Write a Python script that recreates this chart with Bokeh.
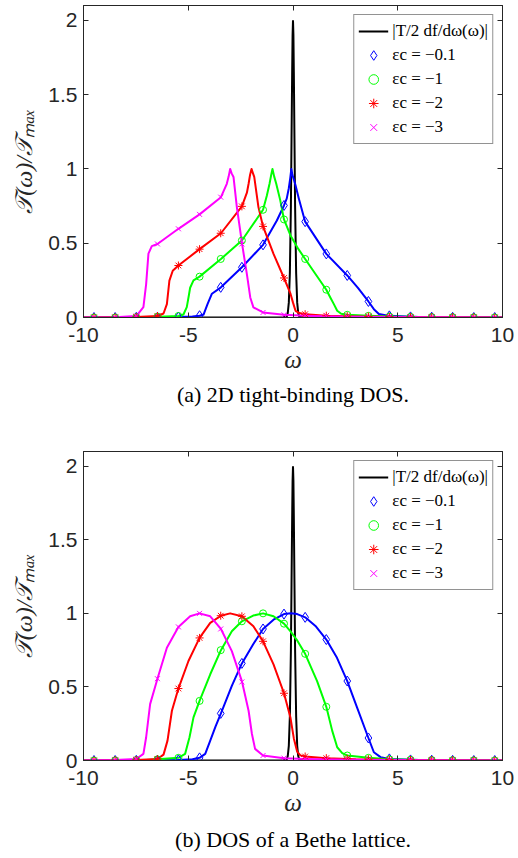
from bokeh.plotting import figure
from bokeh.models import Range1d, LinearAxis, FixedTicker, Legend, LegendItem
from bokeh.layouts import column
from bokeh.embed import file_html
from bokeh.resources import INLINE

# ---------------- data ----------------
x_ticks = [-10, -5, 0, 5, 10]
y_ticks = [0, 0.5, 1, 1.5, 2]
legend_labels = ["|T/2 df/dω(ω)|", "εc = −0.1", "εc = −1", "εc = −2", "εc = −3"]
captions = ["(a) 2D tight-binding DOS.", "(b) DOS of a Bethe lattice."]

# marker abscissae (shared by all series)
mk_w = [-9.5, -8.49, -7.48, -6.47, -5.47, -4.46, -3.45, -2.44, -1.43, -0.43,
        0.58, 1.59, 2.59, 3.6, 4.6, 5.61, 6.62, 7.62, 8.63, 9.63]

# black curve |T/2 df/dw| (same in both panels)
bk_w = [-10, -0.5, -0.3, -0.25, -0.2, -0.15, -0.1, -0.07, -0.04, -0.02, 0,
        0.02, 0.04, 0.07, 0.1, 0.15, 0.2, 0.25, 0.3, 0.5, 10]
bk_t = [0, 0, 0.005, 0.03, 0.1, 0.3, 0.75, 1.2, 1.65, 1.9, 2.0,
        1.9, 1.65, 1.2, 0.75, 0.3, 0.1, 0.03, 0.005, 0, 0]

# ---- panel (a): 2D tight-binding DOS ----
ta_blue_w = [-10, -7, -5.47, -4.8, -4.46, -4.27, -4.08, -3.87, -3.44, -2.44, -1.43, -0.77, -0.43, -0.3, -0.2,
             -0.13, -0.08, -0.03, 0.04, 0.12, 0.28, 0.58, 1.59, 2.59, 3.1, 3.6, 3.86, 4.1, 4.6, 6, 10]
ta_blue_t = [0, 0.001, 0.003, 0.006, 0.012, 0.02, 0.09, 0.16, 0.203, 0.338, 0.489, 0.653, 0.754, 0.80, 0.87,
             0.94, 1.0, 0.96, 0.93, 0.89, 0.80, 0.645, 0.428, 0.283, 0.2, 0.108, 0.056, 0.023, 0.011, 0.003, 0]
ta_green_w = [-10, -7, -5.47, -5.23, -5.07, -4.97, -4.91, -4.75, -4.46, -3.44, -2.44, -1.43, -1.25, -1.12, -1.04,
              -0.98, -0.9, -0.8, -0.61, -0.43, -0.12, 0.26, 0.58, 1.59, 1.8, 1.95, 2.11, 2.3, 2.59, 3.6, 4.6, 6, 10]
ta_green_t = [0, 0.002, 0.01, 0.02, 0.07, 0.15, 0.2, 0.25, 0.275, 0.394, 0.518, 0.725, 0.82, 0.9, 0.96,
              1.0, 0.95, 0.9, 0.79, 0.66, 0.552, 0.46, 0.394, 0.187, 0.13, 0.09, 0.045, 0.025, 0.018, 0.011, 0.006, 0.003, 0]
ta_red_w = [-10, -7.48, -6.47, -6.18, -6.02, -5.9, -5.74, -5.47, -4.46, -3.44, -2.44, -2.2, -2.12, -2.05, -1.98,
            -1.91, -1.85, -1.65, -1.43, -0.93, -0.43, -0.12, 0.0, 0.12, 0.3, 0.58, 1.59, 3, 5, 10]
ta_red_t = [0, 0.003, 0.01, 0.027, 0.09, 0.248, 0.315, 0.35, 0.46, 0.567, 0.748, 0.84, 0.9, 0.96, 1.0,
            0.97, 0.946, 0.743, 0.613, 0.428, 0.266, 0.16, 0.10, 0.045, 0.03, 0.022, 0.012, 0.006, 0.003, 0]
ta_mag_w = [-10, -8.49, -7.48, -7.14, -7.01, -6.9, -6.74, -6.47, -5.47, -4.46, -3.44, -3.16, -3.07, -3.0,
            -2.93, -2.84, -2.68, -2.43, -2.2, -2.04, -1.89, -1.43, -0.43, 0.58, 2, 4, 6, 10]
ta_mag_t = [0, 0.002, 0.01, 0.07, 0.225, 0.43, 0.48, 0.495, 0.597, 0.694, 0.81, 0.9, 0.95, 1.0,
            0.97, 0.946, 0.743, 0.495, 0.29, 0.135, 0.068, 0.034, 0.018, 0.012, 0.007, 0.004, 0.002, 0]
ta_blue_mk = [0, 0, 0.001, 0.002, 0.003, 0.012, 0.203, 0.338, 0.489, 0.754,
              0.645, 0.428, 0.283, 0.108, 0.011, 0.004, 0.002, 0.001, 0, 0]
ta_green_mk = [0, 0, 0.002, 0.005, 0.01, 0.275, 0.394, 0.518, 0.725, 0.66,
               0.394, 0.187, 0.018, 0.011, 0.006, 0.004, 0.003, 0.002, 0.001, 0]
ta_red_mk = [0, 0.001, 0.003, 0.01, 0.35, 0.46, 0.567, 0.748, 0.613, 0.266,
             0.022, 0.012, 0.009, 0.007, 0.005, 0.003, 0.002, 0.002, 0.001, 0]
ta_mag_mk = [0, 0.002, 0.01, 0.495, 0.597, 0.694, 0.81, 0.495, 0.034, 0.018,
             0.012, 0.009, 0.007, 0.005, 0.004, 0.003, 0.002, 0.002, 0.001, 0]

# ---- panel (b): Bethe lattice DOS ----
tb_blue_w = [-10, -7, -5.47, -4.8, -4.46, -4.19, -3.95, -3.7, -3.44, -2.92, -2.44, -1.9, -1.43, -0.93, -0.43,
             -0.1, 0.2, 0.58, 1.1, 1.59, 2.1, 2.59, 3.06, 3.6, 3.86, 4.18, 4.6, 6, 10]
tb_blue_t = [0, 0.001, 0.004, 0.008, 0.018, 0.045, 0.135, 0.23, 0.32, 0.507, 0.66, 0.79, 0.894, 0.957, 0.995,
             1.0, 0.995, 0.973, 0.91, 0.822, 0.698, 0.54, 0.36, 0.153, 0.056, 0.023, 0.011, 0.003, 0]
tb_green_w = [-10, -7, -6.47, -5.47, -5.15, -4.94, -4.75, -4.46, -3.95, -3.44, -2.92, -2.44, -1.9, -1.43, -0.93,
              -0.43, -0.12, 0.18, 0.58, 1.15, 1.59, 1.87, 2.11, 2.35, 2.59, 3.6, 4.6, 6, 10]
tb_green_t = [0, 0.003, 0.008, 0.018, 0.045, 0.158, 0.293, 0.405, 0.586, 0.75, 0.878, 0.946, 0.985, 1.0, 0.98,
              0.93, 0.878, 0.82, 0.725, 0.54, 0.365, 0.203, 0.09, 0.05, 0.034, 0.018, 0.008, 0.003, 0]
tb_red_w = [-10, -7.48, -6.47, -6.18, -5.99, -5.78, -5.47, -4.99, -4.46, -3.95, -3.44, -3.0, -2.44, -1.89,
            -1.43, -0.93, -0.43, -0.12, 0.04, 0.2, 0.35, 0.58, 1.59, 3, 5, 10]
tb_red_t = [0, 0.004, 0.01, 0.04, 0.135, 0.338, 0.489, 0.676, 0.833, 0.935, 0.984, 1.0, 0.98, 0.912,
            0.81, 0.653, 0.457, 0.29, 0.15, 0.06, 0.035, 0.027, 0.016, 0.008, 0.004, 0]
tb_mag_w = [-10, -8.49, -7.48, -7.14, -7.01, -6.82, -6.47, -6.02, -5.47, -4.91, -4.46, -3.95, -3.44,
            -2.92, -2.43, -2.12, -1.96, -1.81, -1.43, -0.43, 0.58, 2, 4, 6, 10]
tb_mag_t = [0, 0.003, 0.01, 0.045, 0.158, 0.383, 0.556, 0.766, 0.908, 0.98, 1.0, 0.98, 0.894,
            0.743, 0.534, 0.338, 0.18, 0.079, 0.034, 0.016, 0.01, 0.006, 0.003, 0.002, 0]
tb_blue_mk = [0, 0, 0.001, 0.002, 0.004, 0.018, 0.32, 0.66, 0.894, 0.995,
              0.973, 0.822, 0.54, 0.153, 0.011, 0.004, 0.002, 0.001, 0, 0]
tb_green_mk = [0, 0.001, 0.003, 0.008, 0.018, 0.405, 0.75, 0.946, 1.0, 0.93,
               0.725, 0.365, 0.034, 0.018, 0.008, 0.005, 0.003, 0.002, 0.001, 0]
tb_red_mk = [0, 0.002, 0.004, 0.01, 0.489, 0.833, 0.984, 0.98, 0.81, 0.457,
             0.027, 0.016, 0.012, 0.009, 0.006, 0.004, 0.003, 0.002, 0.001, 0]
tb_mag_mk = [0, 0.003, 0.01, 0.556, 0.908, 1.0, 0.894, 0.534, 0.034, 0.016,
             0.01, 0.008, 0.006, 0.005, 0.004, 0.003, 0.002, 0.002, 0.001, 0]

# ---------------- styling ----------------
AX = "#262626"
colors = ["#0000ff", "#00ff00", "#ff0000", "#ff00ff"]
markers = ["diamond", "circle", "asterisk", "x"]
msizes = [10, 7, 8, 7]
TICK_FONT = "Liberation Sans"
SERIF = "Liberation Serif"


def make_panel(series, caption, cap_offset, cap_standoff, height, mb_bottom):
    p = figure(width=518, height=height, output_backend="svg", toolbar_location=None,
               x_range=Range1d(-10, 10), y_range=Range1d(0, 2.1),
               title=caption, title_location="below",
               min_border_left=83, min_border_right=16, min_border_top=5, min_border_bottom=mb_bottom)
    p.background_fill_color = "white"
    p.border_fill_color = "white"
    p.outline_line_color = AX
    p.outline_line_width = 1
    p.grid.visible = False

    p.title.align = "center"
    p.title.offset = cap_offset
    p.title.text_font = SERIF
    p.title.text_font_style = "normal"
    p.title.text_font_size = "22px"
    p.title.text_color = "black"
    p.title.standoff = cap_standoff

    xa = p.xaxis[0]
    ya = p.yaxis[0]
    xa.ticker = FixedTicker(ticks=x_ticks)
    ya.ticker = FixedTicker(ticks=y_ticks)
    xa.major_label_overrides = {t: str(t) for t in x_ticks}
    ya.major_label_overrides = {0: "0", 0.5: "0.5", 1: "1", 1.5: "1.5", 2: "2"}
    for ax in (xa, ya):
        ax.major_tick_in = 5
        ax.major_tick_out = 0
        ax.minor_tick_line_color = None
        ax.axis_line_color = AX
        ax.major_tick_line_color = AX
        ax.major_label_text_font = TICK_FONT
        ax.major_label_text_font_size = "21px"
        ax.major_label_text_color = AX
        ax.axis_label_text_font = SERIF
        ax.axis_label_text_font_style = "italic"
        ax.axis_label_text_color = AX
    xa.major_label_standoff = 10
    ya.major_label_standoff = 6
    xa.axis_label = "ω"
    xa.axis_label_text_font_size = "25px"
    xa.axis_label_standoff = 1
    ya.axis_label = "𝒯(ω)/𝒯ₘₐₓ"
    ya.axis_label_text_font_size = "24px"
    ya.axis_label_standoff = 8

    # ticks on top and right (box style), without labels
    for side, tk in (("right", y_ticks), ("above", x_ticks)):
        a = LinearAxis(ticker=FixedTicker(ticks=tk), major_tick_in=5, major_tick_out=0,
                       minor_tick_line_color=None, axis_line_color=AX, major_tick_line_color=AX,
                       major_label_text_font_size="1px", major_label_text_color=None,
                       major_label_standoff=0)
        p.add_layout(a, side)

    (bw, bt), lines, mks = series
    items = []
    r = p.line(bw, bt, line_color="black", line_width=2)
    items.append(LegendItem(label=legend_labels[0], renderers=[r]))
    for (w, t), c in zip(lines, colors):
        p.line(w, t, line_color=c, line_width=2, line_join="round")
    for mv, c, m, s, lab in zip(mks, colors, markers, msizes, legend_labels[1:]):
        rm = p.scatter(mk_w, mv, marker=m, size=s, line_color=c, fill_color=None, line_width=1)
        items.append(LegendItem(label=lab, renderers=[rm]))

    leg = Legend(items=items, location="top_right")
    leg.margin = 9
    leg.padding = 4
    leg.spacing = 0
    leg.label_height = 24
    leg.glyph_height = 24
    leg.glyph_width = 30
    leg.label_standoff = 4
    leg.border_line_color = AX
    leg.border_line_width = 1
    leg.background_fill_alpha = 1
    leg.label_text_font = SERIF
    leg.label_text_font_size = "17px"
    leg.label_text_color = "black"
    p.add_layout(leg)
    return p


p1 = make_panel(((bk_w, bk_t),
                 [(ta_blue_w, ta_blue_t), (ta_green_w, ta_green_t), (ta_red_w, ta_red_t), (ta_mag_w, ta_mag_t)],
                 [ta_blue_mk, ta_green_mk, ta_red_mk, ta_mag_mk]),
                captions[0], -13, 8, 446, 129)
p2 = make_panel(((bk_w, bk_t),
                 [(tb_blue_w, tb_blue_t), (tb_green_w, tb_green_t), (tb_red_w, tb_red_t), (tb_mag_w, tb_mag_t)],
                 [tb_blue_mk, tb_green_mk, tb_red_mk, tb_mag_mk]),
                captions[1], 0, 13, 412, 96)

layout = column(p1, p2, spacing=0)
open("out.html", "w").write(file_html(layout, INLINE))
